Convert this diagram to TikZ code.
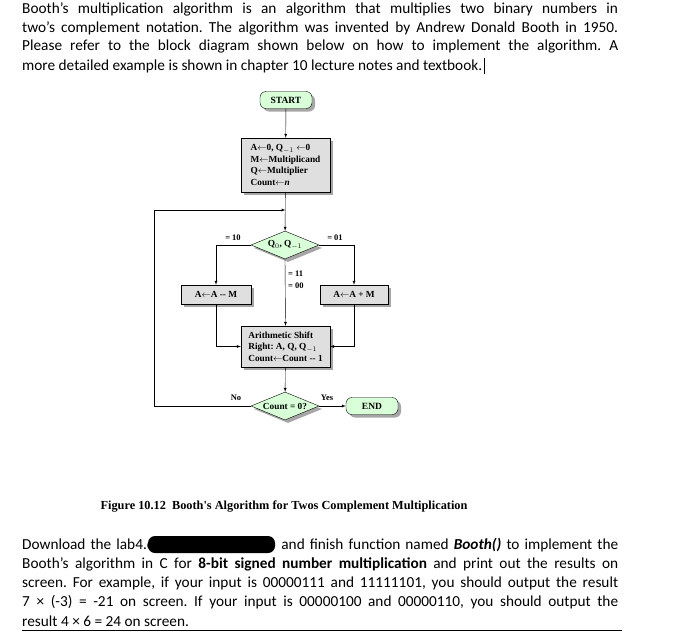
\documentclass[tikz,border=0pt]{standalone}
\usepackage{fontspec}
\setmainfont{Carlito}
\newfontfamily\timesf{Liberation Serif}
\usetikzlibrary{positioning}
\usetikzlibrary{shapes.geometric, shadows}
\frenchspacing
\begin{document}
\begin{tikzpicture}[x=1pt,y=-1pt,
every node/.style={inner sep=0pt},
>=latex
]
\tikzstyle{para} = [anchor=west, font=\fontsize{15.3}{17}\selectfont]
\tikzstyle{sh} = [drop shadow={shadow xshift=3pt,shadow yshift=-3pt,fill=gray!70,opacity=1}]
\tikzstyle{term} = [draw, sh, rounded corners=6pt, fill=green!15, minimum width=52pt, minimum height=17pt, font=\timesf\bfseries\fontsize{9.5}{10}\selectfont]
\tikzstyle{box} = [draw, sh, fill=gray!25, align=left, inner sep=3pt, font=\timesf\bfseries\fontsize{9.3}{11.5}\selectfont]
\tikzstyle{dec} = [draw, sh, diamond, aspect=2.4, fill=green!15, minimum width=68pt, minimum height=28pt, font=\timesf\bfseries\fontsize{9.3}{10}\selectfont]
\tikzstyle{lbl} = [font=\timesf\bfseries\fontsize{8.5}{10}\selectfont]
\useasboundingbox (0,0) rectangle (687,632);
% text above
\node[para] (p1) at (22,9)  {\hbox to 596pt{Booth's multiplication algorithm is an algorithm that multiplies two binary numbers in}};
\node[para] (p2) at (22,28) {\hbox to 596pt{two's complement notation. The algorithm was invented by Andrew Donald Booth in 1950.}};
\node[para] (p3) at (22,47) {\hbox to 596pt{Please refer to the block diagram shown below on how to implement the algorithm. A}};
\node[para] (p4) at (22,66) {more detailed example is shown in chapter 10 lecture notes and textbook.};
\draw (p4.east) ++(2,-8) coordinate (cur) -- ++(0,16);
% flowchart
\node[term] (start) at (286,100) {START};
\node[box, minimum width=89pt, minimum height=54pt] (init) at (285.5,165)
  {A$\leftarrow$0, Q$_{-1}\leftarrow$0\\ M$\leftarrow$Multiplicand\\ Q$\leftarrow$Multiplier\\ Count$\leftarrow$\textit{n}};
\node[dec] (q) at (285,245) {Q$_0$, Q$_{-1}$};
\node[box, minimum width=70pt, minimum height=19pt] (sub) at (216,294.5) {A$\leftarrow$A -- M};
\node[box, minimum width=68pt, minimum height=19pt] (add) at (354,294.5) {A$\leftarrow$A + M};
\node[box, minimum width=89pt, minimum height=41pt] (shift) at (285.5,346.5)
  {Arithmetic Shift\\ Right: A, Q, Q$_{-1}$\\ Count$\leftarrow$Count -- 1};
\node[dec] (cnt) at (285,406) {Count = 0?};
\node[term] (end) at (372,406) {END};
\coordinate (join) at (285.5,210);
\draw[->] (start) -- (init);
\draw[->] (init) -- (q);
\draw[->] (q.west) -| (sub.north);
\draw[->] (q.east) -| (add.north);
\draw[->] (q.south) -- (shift.north);
\draw[->] (sub.south) |- (shift.west);
\draw[->] (add.south) |- (shift.east);
\draw[->] (shift) -- (cnt);
\draw[->] (cnt.east) -- (end);
\draw[->] (cnt.west) -- ++(-97,0) |- (join);
\node[lbl] at (233,238) {= 10};
\node[lbl] at (335,238) {= 01};
\node[lbl, anchor=west] at (288,274) {= 11};
\node[lbl, anchor=west] at (288,286) {= 00};
\node[lbl] at (236,398) {No};
\node[lbl] at (327,398) {Yes};
\node[font=\timesf\bfseries\fontsize{12.3}{14}\selectfont] (cap) at (284,507)
  {Figure 10.12\ \ Booth's Algorithm for Twos Complement Multiplication};
% text below
\node[para] (q1) at (22,545) {\hbox to 596pt{Download the lab4.c\hspace{128pt}and finish function named \textbf{\textit{Booth()}} to implement the}};
\node[para] (q2) at (22,564) {\hbox to 596pt{Booth’s algorithm in C for \textbf{8-bit signed number multiplication} and print out the results on}};
\node[para] (q3) at (22,583) {\hbox to 596pt{screen. For example, if your input is 00000111 and 11111101, you should output the result}};
\node[para] (q4) at (22,602) {\hbox to 596pt{7 × (-3) = -21 on screen. If your input is 00000100 and 00000110, you should output the}};
\node[para] (q5) at (22,621) {result 4 × 6 = 24 on screen.};
\fill[rounded corners=7pt] (148,536) rectangle (275,553);
\draw (22,630) -- (622,630);
\end{tikzpicture}
\end{document}
